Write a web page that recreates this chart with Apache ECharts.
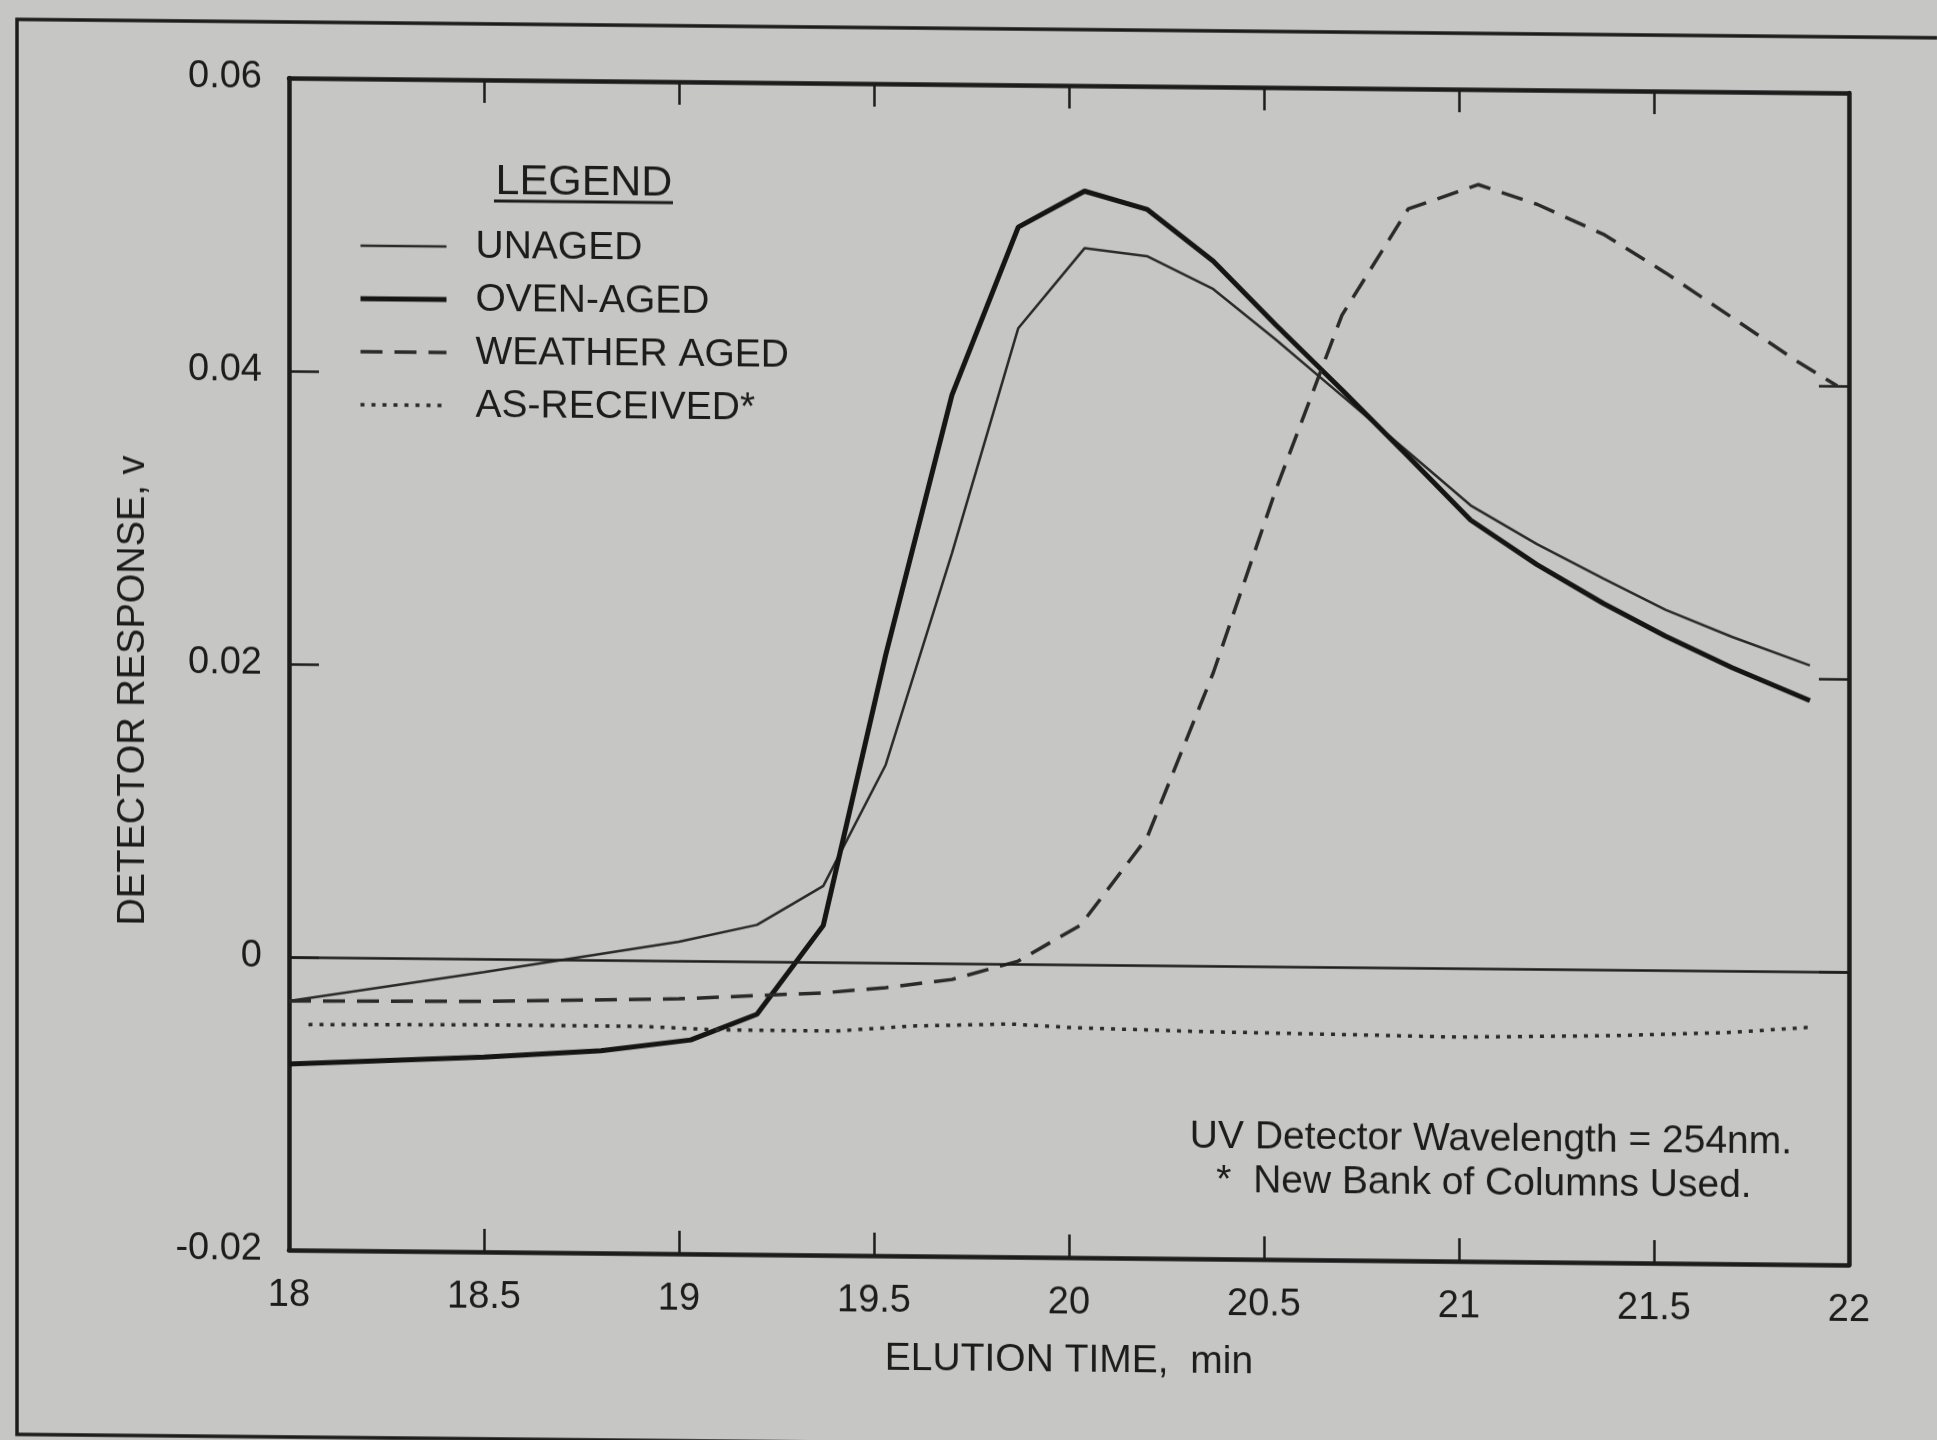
<!DOCTYPE html>
<html>
<head>
<meta charset="utf-8">
<script src="https://cdn.jsdelivr.net/npm/echarts@6/dist/echarts.min.js"></script>
<style>
  html, body { margin:0; padding:0; background:#c6c6c4; overflow:hidden; }
  #chart { width:1937px; height:1440px; background:#c6c6c4;
           transform-origin: 289px 0; transform: skewY(0.55deg); }
</style>
</head>
<body>
<div id="chart"></div>
<script>
// ---- data (elution time in min, detector response in v) ----
const xTicks = [18, 18.5, 19, 19.5, 20, 20.5, 21, 21.5, 22];
const yTicks = [-0.02, 0, 0.02, 0.04, 0.06];
const seriesNames = ['UNAGED', 'OVEN-AGED', 'WEATHER AGED', 'AS-RECEIVED*'];

const unaged = [
  [18.0,-0.0030],[18.5,-0.0009],[19.0,0.0013],[19.2,0.0025],[19.37,0.0052],
  [19.53,0.0135],[19.7,0.0280],[19.87,0.0434],[20.04,0.0489],[20.2,0.0484],
  [20.37,0.0462],[20.53,0.0428],[20.7,0.0390],[20.87,0.0352],[21.03,0.0316],
  [21.2,0.0290],[21.37,0.0267],[21.53,0.0246],[21.7,0.0228],[21.9,0.0209]
];
const ovenAged = [
  [18.0,-0.0073],[18.5,-0.0067],[18.8,-0.0062],[19.03,-0.0054],[19.2,-0.0036],
  [19.37,0.0025],[19.53,0.0210],[19.7,0.0388],[19.87,0.0503],[20.04,0.0528],
  [20.2,0.0516],[20.37,0.0481],[20.53,0.0438],[20.7,0.0394],[20.87,0.0349],
  [21.03,0.0306],[21.2,0.0276],[21.37,0.0250],[21.53,0.0228],[21.7,0.0207],[21.9,0.0185]
];
const weatherAged = [
  [18.0,-0.0030],[18.5,-0.0029],[19.0,-0.0026],[19.37,-0.0021],[19.53,-0.0017],
  [19.7,-0.0011],[19.87,0.0002],[20.03,0.0027],[20.2,0.0087],[20.37,0.0200],
  [20.53,0.0325],[20.7,0.0445],[20.87,0.0518],[21.05,0.0535],[21.2,0.0522],
  [21.37,0.0502],[21.53,0.0476],[21.7,0.0446],[21.87,0.0416],[21.97,0.0400]
];
const asReceived = [
  [18.05,-0.0046],[18.5,-0.0045],[18.9,-0.0045],[19.1,-0.0047],[19.4,-0.0047],
  [19.6,-0.0043],[19.85,-0.0041],[20.0,-0.0043],[20.35,-0.0045],[20.7,-0.0046],
  [21.0,-0.0047],[21.4,-0.0045],[21.7,-0.0042],[21.9,-0.0038]
];
const notes = ['UV Detector Wavelength = 254nm.', '*  New Bank of Columns Used.'];

// ---- chart ----
const FONT = '"Liberation Sans", Arial, Helvetica, sans-serif';
const INK = '#1c1c1c';
const chart = echarts.init(document.getElementById('chart'), null, {renderer:'canvas'});

const styles = [
  {color:'#2a2a2a', width:2.5, type:'solid'},
  {color:'#151515', width:5,   type:'solid'},
  {color:'#2a2a2a', width:3.5, type:[22,12]},
  {color:'#2a2a2a', width:3.5, type:[4,7]}
];

const axisCommon = {
  type:'value',
  axisLine:{show:true, onZero:false, lineStyle:{color:INK, width:4.5}},
  splitLine:{show:false}
};

const option = {
  backgroundColor:'#c6c6c4',
  animation:false,
  grid:{left:289, right:88, top:78, bottom:190, containLabel:false},
  xAxis:[
    Object.assign({}, axisCommon, {
      position:'bottom', min:xTicks[0], max:xTicks[xTicks.length-1], interval:0.5,
      axisTick:{show:true, inside:true, length:23, lineStyle:{color:INK, width:2.5}},
      axisLabel:{show:true, margin:27, fontSize:38, color:INK, fontFamily:FONT,
        formatter:v => xTicks.indexOf(v) >= 0 ? String(v) : ''},
      name:'ELUTION TIME,  min', nameLocation:'middle', nameGap:84,
      nameTextStyle:{fontSize:39, color:INK, fontFamily:FONT}
    }),
    Object.assign({}, axisCommon, {
      position:'top', min:xTicks[0], max:xTicks[xTicks.length-1], interval:0.5,
      axisTick:{show:true, inside:true, length:23, lineStyle:{color:INK, width:2.5}},
      axisLabel:{show:false}
    })
  ],
  yAxis:[
    Object.assign({}, axisCommon, {
      position:'left', min:yTicks[0], max:yTicks[yTicks.length-1], interval:0.02,
      axisTick:{show:true, inside:true, length:30, lineStyle:{color:INK, width:2.5}},
      axisLabel:{show:true, margin:27, fontSize:38, color:INK, fontFamily:FONT,
        formatter:v => String(Math.round(v*100)/100)},
      name:'DETECTOR RESPONSE, v', nameLocation:'middle', nameGap:136, nameRotate:90,
      nameTextStyle:{fontSize:38, color:INK, fontFamily:FONT, padding:[0,56,0,0]}
    }),
    Object.assign({}, axisCommon, {
      position:'right', min:yTicks[0], max:yTicks[yTicks.length-1], interval:0.02,
      axisTick:{show:true, inside:true, length:30, lineStyle:{color:INK, width:2.5}},
      axisLabel:{show:false}
    })
  ],
  legend:{
    orient:'vertical', left:353, top:220, itemWidth:86, itemHeight:20, itemGap:13,
    selectedMode:false,
    itemStyle:{color:'rgba(0,0,0,0)', borderColor:'rgba(0,0,0,0)', borderWidth:0},
    textStyle:{fontSize:39, color:INK, fontFamily:FONT, padding:[0,0,0,24], lineHeight:40},
    data:seriesNames.map((n, i) => ({
      name:n,
      lineStyle:{width:styles[i].width, type:styles[i].type, color:styles[i].color}
    }))
  },
  graphic:[
    {type:'rect', silent:true, shape:{x:17, y:22, width:2000, height:1415},
     style:{fill:null, stroke:INK, lineWidth:3.5}},
    {type:'text', silent:true, x:584, y:180,
     style:{text:'LEGEND', font:'43px ' + FONT, fill:INK, textAlign:'center', textVerticalAlign:'middle'}},
    {type:'line', silent:true, shape:{x1:494, y1:199, x2:673, y2:199},
     style:{stroke:INK, lineWidth:3}},
    {type:'text', silent:true, x:1491, y:1128,
     style:{text:notes[0], font:'39px ' + FONT, fill:INK, textAlign:'center', textVerticalAlign:'middle'}},
    {type:'text', silent:true, x:1484, y:1172,
     style:{text:notes[1], font:'39px ' + FONT, fill:INK, textAlign:'center', textVerticalAlign:'middle'}}
  ],
  series:[
    {name:seriesNames[0], type:'line', data:unaged, symbol:'none',
     lineStyle:styles[0], itemStyle:{color:styles[0].color},
     markLine:{silent:true, symbol:'none', label:{show:false},
       lineStyle:{color:INK, width:2.5, type:'solid'}, data:[{yAxis:0}]}},
    {name:seriesNames[1], type:'line', data:ovenAged, symbol:'none',
     lineStyle:styles[1], itemStyle:{color:styles[1].color}},
    {name:seriesNames[2], type:'line', data:weatherAged, symbol:'none',
     lineStyle:styles[2], itemStyle:{color:styles[2].color}},
    {name:seriesNames[3], type:'line', data:asReceived, symbol:'none',
     lineStyle:styles[3], itemStyle:{color:styles[3].color}}
  ]
};
chart.setOption(option);
</script>
</body>
</html>
